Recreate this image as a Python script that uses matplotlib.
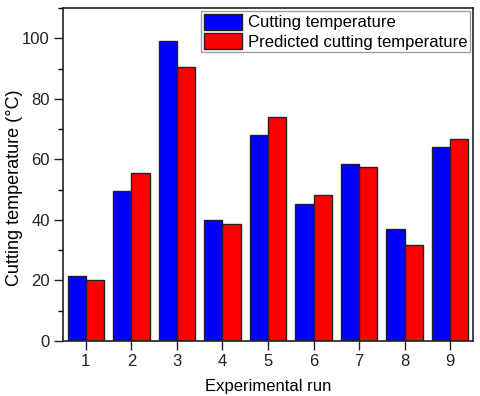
import matplotlib
matplotlib.use("Agg")
import matplotlib.pyplot as plt
import numpy as np
from matplotlib.ticker import MultipleLocator

plt.rcParams["font.family"] = ["Liberation Sans", "DejaVu Sans"]

runs = [1, 2, 3, 4, 5, 6, 7, 8, 9]
measured = [21.4, 49.6, 99.0, 39.9, 68.1, 45.4, 58.5, 36.9, 64.1]
predicted = [20.3, 55.4, 90.5, 38.8, 74.0, 48.2, 57.5, 31.7, 66.8]

fig = plt.figure(figsize=(4.8, 3.96), dpi=100)
ax = fig.add_axes([63 / 480, 1 - 341 / 396, 410 / 480, 333 / 396])

x = np.array(runs)
w = 0.4
ax.bar(x - w / 2, measured, width=w, color="#0000ff", edgecolor="#222222",
       linewidth=1.0, label="Cutting temperature")
ax.bar(x + w / 2, predicted, width=w, color="#ff0000", edgecolor="#222222",
       linewidth=1.0, label="Predicted cutting temperature")

ax.set_xlim(0.5, 9.5)
ax.set_ylim(0, 110)
ax.set_xticks(runs)
ax.set_yticks([0, 20, 40, 60, 80, 100])
ax.yaxis.set_minor_locator(MultipleLocator(10))
ax.tick_params(axis="both", which="major", direction="out", length=6.5,
               width=1.0, labelsize=12, colors="#222222", pad=3)
ax.tick_params(axis="y", which="minor", direction="out", length=3.5, width=1.0)
for s in ax.spines.values():
    s.set_linewidth(1.2)
    s.set_color("#222222")

ax.set_xlabel("Experimental run", fontsize=12, labelpad=7)
ax.set_ylabel("Cutting temperature (°C)", fontsize=13)
ax.yaxis.set_label_coords(-0.098, 0.461)

leg = ax.legend(loc="upper right", fontsize=12, frameon=True, fancybox=False,
                edgecolor="#888888", handlelength=2.3, handleheight=1.1,
                handletextpad=0.35, borderpad=0.15, labelspacing=0.15,
                borderaxespad=0.2)
leg.get_frame().set_linewidth(1.0)

fig.savefig("out.png", dpi=100)
